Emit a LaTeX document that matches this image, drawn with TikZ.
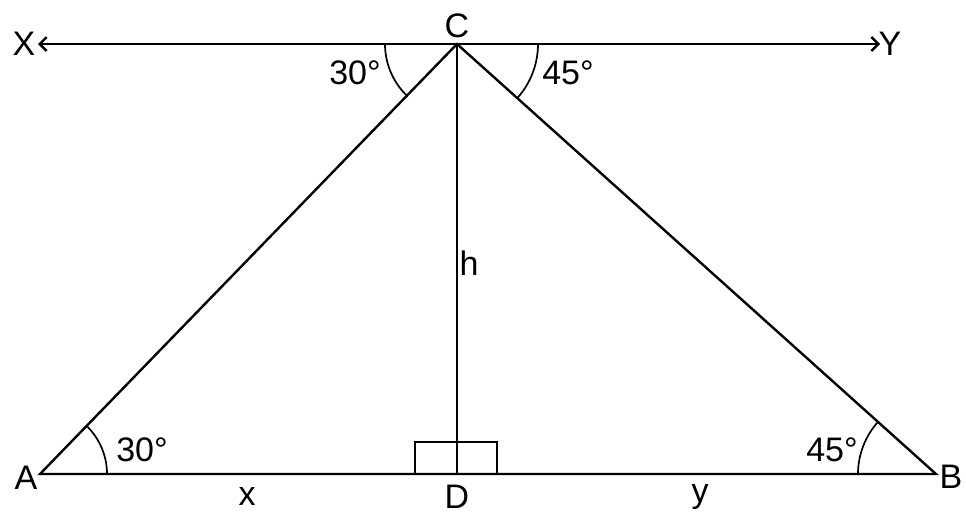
\documentclass[tikz,border=0pt]{standalone}
\usepackage{fontspec}
\setmainfont{Liberation Sans}
\usetikzlibrary{arrows.meta,calc}
\begin{document}
\begin{tikzpicture}[x=1pt,y=-1pt,
  edge/.style={line width=2.4pt},
  anglearc/.style={line width=1.7pt},
  lbl/.style={font=\fontsize{34}{38}\selectfont, inner sep=0pt},
  tip/.style={-{Straight Barb[length=7pt,width=14pt,line width=2.4pt]}}]
\useasboundingbox (0,0) rectangle (966,525);
\coordinate (C) at (457,44);
\coordinate (A) at (40,474);
\coordinate (B) at (936,474);
\coordinate (D) at (457,474);
\coordinate (Xe) at (38,44);
\coordinate (Ye) at (880,44);
\node[lbl] (Xl) at (24,44) {X};
\node[lbl] (Yl) at (890,44) {Y};
\node[lbl] (Cl) at (457,26) {C};
\node[lbl] (Al) at (26,478) {A};
\node[lbl] (Bl) at (951,477) {B};
\node[lbl] (Dl) at (457,497) {D};
\node[lbl] (hl) at (469,263) {h};
\node[lbl] (xl) at (247,497) {x};
\node[lbl] (yl) at (700,497) {y};
\node[lbl] (a1) at (355,73) {30°};
\node[lbl] (a2) at (568,73) {45°};
\node[lbl] (a3) at (142,450) {30°};
\node[lbl] (a4) at (832,450) {45°};
\draw[edge,tip] (C) -- (Xe);
\draw[edge,tip] (C) -- (Ye);
\draw[edge] (A) -- (B) -- (C) -- cycle;
\draw[edge] (C) -- (D);
\draw[edge] (415,474) -- (415,442) -- (497,442) -- (497,474);
% angle arcs
\draw[anglearc] ($(C)+(-72,0)$) arc[start angle=180,end angle=134.1,radius=72];
\draw[anglearc] ($(C)+(81,0)$) arc[start angle=0,end angle=42,radius=81];
\draw[anglearc] ($(A)+(67,0)$) arc[start angle=0,end angle=-45.9,radius=67];
\draw[anglearc] ($(B)+(-78,0)$) arc[start angle=180,end angle=222,radius=78];
\end{tikzpicture}
\end{document}
